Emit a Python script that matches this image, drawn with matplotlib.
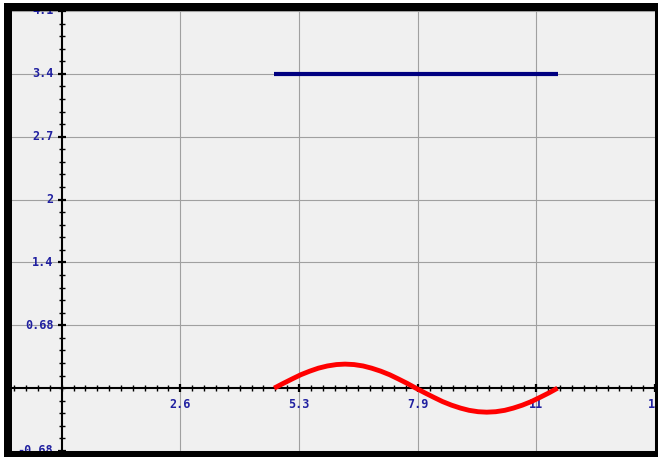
import matplotlib
matplotlib.use('Agg')
import matplotlib.pyplot as plt
from matplotlib.patches import Rectangle
from matplotlib.ticker import FixedLocator, MultipleLocator
from matplotlib.transforms import ScaledTranslation

# tick positions and their labels
xTicks = [2.63, 5.26, 7.89, 10.52, 13.15]
xLabels = ['2.6', '5.3', '7.9', '11', '13']
yTicks = [-0.68, 0.68, 1.36, 2.04, 2.72, 3.4, 4.08]
yLabels = ['-0.68', '0.68', '1.4', '2', '2.7', '3.4', '4.1']

# blue flat line
blueX = [4.71, 10.99]
blueY = [3.4, 3.4]

# red wave
redX = [4.71, 4.91, 5.11, 5.30, 5.50, 5.69, 5.89, 6.09, 6.28, 6.48, 6.68,
        6.87, 7.07, 7.27, 7.46, 7.66, 7.85, 8.05, 8.25, 8.44, 8.64, 8.84,
        9.03, 9.23, 9.42, 9.62, 9.82, 10.01, 10.21, 10.41, 10.60, 10.80, 10.99]
redY = [0.0, 0.051, 0.100, 0.145, 0.184, 0.216, 0.240, 0.255, 0.26, 0.255, 0.240,
        0.216, 0.184, 0.145, 0.100, 0.051, 0.0, -0.051, -0.100, -0.145, -0.184, -0.216,
        -0.240, -0.255, -0.26, -0.255, -0.240, -0.216, -0.184, -0.145, -0.100, -0.051, 0.0]

W, H = 658.0, 457.0
fig = plt.figure(figsize=(W / 100, H / 100), dpi=100, facecolor='white')

# black frame round the plot
fig.patches.append(Rectangle((4 / W, 0), 1 - 4 / W, 1 - 3 / H, transform=fig.transFigure,
                             facecolor='black', edgecolor='none', zorder=-1))

ax = fig.add_axes([12 / W, 6 / H, (655 - 12) / W, (451 - 11) / H])
ax.set_facecolor('#f0f0f0')
ax.set_xlim(-1.1, 13.15)
ax.set_ylim(-0.68, 4.08)

for s in ['top', 'right']:
    ax.spines[s].set_visible(False)
for s in ['left', 'bottom']:
    ax.spines[s].set_position(('data', 0))
    ax.spines[s].set_linewidth(1.5)
    ax.spines[s].set_zorder(3)

ax.xaxis.set_major_locator(FixedLocator(xTicks))
ax.yaxis.set_major_locator(FixedLocator(yTicks))
ax.xaxis.set_minor_locator(MultipleLocator(0.263))
ax.yaxis.set_minor_locator(MultipleLocator(0.136))
ax.tick_params(which='both', direction='inout', labelbottom=False, labelleft=False)
ax.tick_params(which='major', length=6, width=1.6)
ax.tick_params(which='minor', length=4, width=1)

ax.grid(True, which='major', color='#a0a0a0', linewidth=0.8)
ax.set_axisbelow(True)

ax.plot(blueX, blueY, color='#000080', linewidth=3, solid_capstyle='butt', zorder=4)
ax.plot(redX, redY, color='#ff0000', linewidth=3.5, solid_capstyle='butt', zorder=4)

lblFont = dict(family='DejaVu Sans Mono', fontsize=8.5, fontweight='bold', color='#2020a0')
downOff = ax.transData + ScaledTranslation(0, -7 / 72, fig.dpi_scale_trans)
leftOff = ax.transData + ScaledTranslation(-6 / 72, 0, fig.dpi_scale_trans)
for x, t in zip(xTicks, xLabels):
    ax.text(x, 0, t, transform=downOff, ha='center', va='top', clip_on=True, **lblFont)
for y, t in zip(yTicks, yLabels):
    ax.text(0, y, t, transform=leftOff, ha='right', va='center', clip_on=True, **lblFont)

fig.savefig('out.png', dpi=100, facecolor=fig.get_facecolor())
